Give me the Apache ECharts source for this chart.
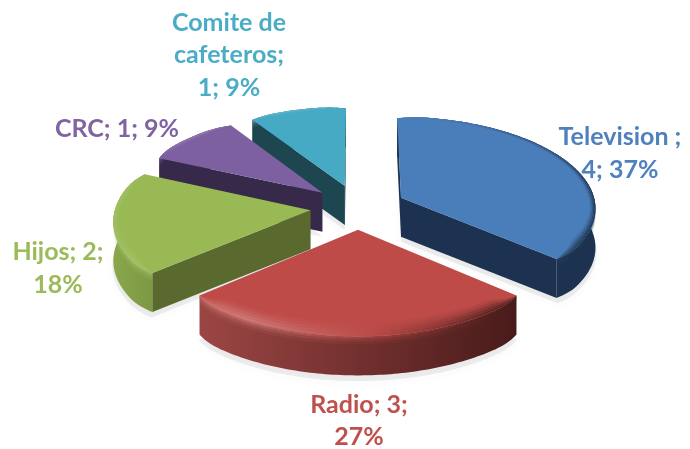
<!DOCTYPE html>
<html><head><meta charset="utf-8">
<style>html,body{margin:0;padding:0;background:#fff}#c{width:690px;height:449px}</style>
<script src="https://cdn.jsdelivr.net/npm/echarts@6/dist/echarts.min.js"></script>
</head><body><div id="c"></div>
<script>
const categories = ['Television ', 'Radio', 'Hijos', 'CRC', 'Comite de cafeteros'];
const values = [4, 3, 2, 1, 1];
const percentLabels = ['37%', '27%', '18%', '9%', '9%'];
const labelTexts = ['Television ;\n4; 37%', 'Radio; 3;\n27%', 'Hijos; 2;\n18%', 'CRC; 1; 9%', 'Comite de\ncafeteros;\n1; 9%'];
const labelColors = ['#4f81bd', '#c0504d', '#9bbb59', '#8064a2', '#4bacc6'];
const topColors = ['#4a7ebb', '#be4b48', '#98b954', '#7d60a0', '#46aac5'];
const innerWall = ['#1c3250', '#5a2220', '#5a6a2f', '#37294a', '#1d4650'];
const outerLeft = ['#1c3250', '#9c4644', '#8aa74c', '#4a3763', '#2b6575'];
const outerRight = ['#1c3250', '#481b1a', '#7c9844', '#37294a', '#1d4650'];
const rimRightX = [640, 545, 560, 560, 560];
const labelCenters = [[620, 153.5], [359, 421], [58, 268.5], [117, 128.5], [229, 55]];
const drawOrder = [4, 3, 2, 0, 1];

const cx = 358, cy = 207, Kx = 195, Ky = 91, p = 0.10, explode = 0.245, H = 39, STEP = Math.PI / 180;
const cornerAngle = 10 * Math.PI / 180, cornerCut = 0.02, bevelR = 0.03, bevelZ = 11;
const total = values.reduce((a, b) => a + b, 0);
function angles(i) {
  let s = 0;
  for (let k = 0; k < i; k++) s += values[k];
  return [s / total * 2 * Math.PI, (s + values[i]) / total * 2 * Math.PI];
}
function proj(u, f, z) {
  const s = 1 / (1 + p * f);
  return [cx + Kx * u * s, cy - Ky * f * s + z];
}
function hexRgb(h) { return [1, 3, 5].map(i => parseInt(h.substr(i, 2), 16)); }
function mixA(h, t, a, op) {
  const c = hexRgb(h);
  return 'rgba(' + c.map(v => Math.round(v + (t - v) * a)).join(',') + ',' + op + ')';
}
function sliceGeom(i) {
  const [a0, a1] = angles(i), mid = (a0 + a1) / 2;
  const ex = explode * Math.sin(mid), ey = explode * Math.cos(mid);
  const pt = (t, r, z) => proj(ex + r * Math.sin(t), ey + r * Math.cos(t), z);
  const rnd = t => {
    const d = Math.min(t - a0, a1 - t);
    if (d >= cornerAngle) return 1;
    const q = 1 - Math.max(d, 0) / cornerAngle;
    return 1 - cornerCut * q * q;
  };
  const n = Math.max(2, Math.ceil((a1 - a0) / STEP));
  const sample = fn => {
    const out = [];
    for (let k = 0; k <= n; k++) out.push(fn(a0 + (a1 - a0) * k / n));
    return out;
  };
  const arc = (r, z) => sample(t => pt(t, r * rnd(t), z));
  // inner boundary of the top bevel: frac 0 = rim, 1 = inner edge
  const bevel = frac => sample(t => {
    const d = Math.min(t - a0, a1 - t), fade = Math.min(1, d / cornerAngle);
    return pt(t, rnd(t) * (1 - bevelR * frac * fade), -bevelZ * frac * fade * Math.max(0, -Math.cos(t)));
  });
  return { a0, a1, mid, pt, arc, bevel };
}
function poly(points, fill, extra) {
  return { type: 'polygon', shape: { points }, style: Object.assign({ fill, stroke: null }, extra || {}), silent: true };
}
function hGrad(x0, x1, stops) {
  return { type: 'linear', x: x0, y: 0, x2: x1, y2: 0, global: true, colorStops: stops };
}
function rimGrad(i, op) {
  const base = topColors[i];
  return hGrad(120, rimRightX[i], [
    { offset: 0, color: mixA(base, 255, 0.1, op) },
    { offset: 0.3, color: mixA(base, 255, 0.28, op) },
    { offset: 0.6, color: mixA(base, 0, 0.03, op) },
    { offset: 0.9, color: mixA(base, 0, 0.6, op) },
    { offset: 1, color: mixA(base, 0, 0.65, op) }
  ]);
}
function renderShadow(params, api) {
  const i = api.value(0), g = sliceGeom(i);
  const pts = [g.pt(0, 0, H + 5)].concat(g.arc(1.005, H + 5));
  return { type: 'group', children: [poly(pts, 'rgba(120,120,120,0.12)', {
    shadowBlur: 9, shadowColor: 'rgba(90,90,90,0.22)', shadowOffsetY: 2 })] };
}
function renderSlice(params, api) {
  const i = api.value(0), g = sliceGeom(i), ch = [], base = topColors[i];
  const topArc = g.arc(1, 0), botArc = g.arc(1, H);
  const apex = g.pt(0, 0, 0), apexB = g.pt(0, 0, H);
  const inter = g.pt(g.mid, 0.5, 0);
  const xs = botArc.map(q => q[0]);
  const xMin = Math.min.apply(null, xs), xMax = Math.max.apply(null, xs);
  ch.push(poly(topArc.concat(botArc.slice().reverse()), hGrad(xMin, xMax, [
    { offset: 0, color: outerLeft[i] }, { offset: 1, color: outerRight[i] }])));
  [[topArc[0], botArc[0]], [topArc[topArc.length - 1], botArc[botArc.length - 1]]].forEach(e => {
    const ex = e[0][0] - apex[0], ey = e[0][1] - apex[1];
    const c2 = ex * (inter[1] - apex[1]) - ey * (inter[0] - apex[0]);
    if (ex * c2 < 0) ch.push(poly([apex, e[0], e[1], apexB], innerWall[i]));
  });
  [[0, 2.5, 0.6], [2.5, 5, 0.32], [5, 8, 0.12]].forEach(b => {
    ch.push(poly(g.arc(1, b[0]).concat(g.arc(1, b[1]).reverse()), rimGrad(i, b[2])));
  });
  ch.push(poly([apex].concat(topArc), base));
  [[1, 0.8, 0.12], [0.8, 0.6, 0.28], [0.6, 0.4, 0.5], [0.4, 0.2, 0.72], [0.2, 0, 0.9]].forEach(b => {
    ch.push(poly(g.bevel(b[0]).concat(g.bevel(b[1]).reverse()), rimGrad(i, b[2])));
  });
  return { type: 'group', children: ch };
}
const chart = echarts.init(document.getElementById('c'), null, { renderer: 'canvas' });
const seriesData = drawOrder.map(i => ({ value: [i], name: categories[i] }));
chart.setOption({
  animation: false,
  backgroundColor: '#ffffff',
  series: [
    { type: 'custom', coordinateSystem: 'none', renderItem: renderShadow, data: seriesData, silent: true, z: 1 },
    { type: 'custom', coordinateSystem: 'none', renderItem: renderSlice, data: seriesData, silent: true, z: 2 }
  ],
  graphic: labelTexts.map((t, i) => ({
    type: 'text', x: labelCenters[i][0], y: labelCenters[i][1], z: 10,
    style: { text: t, fill: labelColors[i], font: 'bold 25px Lato', lineHeight: 32.5, align: 'center', verticalAlign: 'middle' }
  }))
});
</script></body></html>
